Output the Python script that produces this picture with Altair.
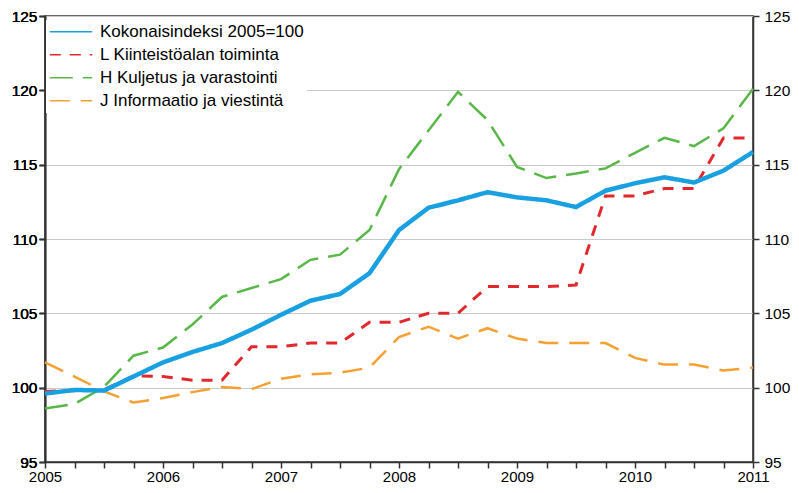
import altair as alt
import pandas as pd

# Quarterly observations, 2005 .. 2011
quarters = [2005.0, 2005.25, 2005.5, 2005.75, 2006.0, 2006.25, 2006.5, 2006.75,
            2007.0, 2007.25, 2007.5, 2007.75, 2008.0, 2008.25, 2008.5, 2008.75,
            2009.0, 2009.25, 2009.5, 2009.75, 2010.0, 2010.25, 2010.5, 2010.75, 2011.0]

kokonais = [99.6, 99.85, 99.8, 100.75, 101.7, 102.4, 103.0, 103.9, 104.9, 105.85,
            106.3, 107.7, 110.6, 112.1, 112.6, 113.15, 112.8, 112.6, 112.15, 113.25,
            113.75, 114.15, 113.8, 114.6, 115.85]
kiinteisto = [99.75, 99.8, 99.85, 100.8, 100.75, 100.5, 100.5, 102.75, 102.75, 103.0,
              103.0, 104.4, 104.4, 105.0, 105.0, 106.8, 106.8, 106.8, 106.9, 112.9,
              112.9, 113.4, 113.4, 116.8, 116.8]
kuljetus = [98.6, 98.9, 100.05, 102.15, 102.7, 104.25, 106.1, 106.7, 107.3, 108.6,
            108.95, 110.6, 114.7, 117.3, 119.9, 118.0, 114.85, 114.1, 114.4, 114.75,
            115.8, 116.8, 116.25, 117.45, 120.1]
informaatio = [101.7, 100.75, 99.75, 99.0, 99.3, 99.7, 100.05, 99.9, 100.6, 100.9,
               101.0, 101.35, 103.4, 104.1, 103.3, 104.0, 103.3, 103.0, 103.0, 103.0,
               102.0, 101.55, 101.55, 101.15, 101.35]

series_names = ["Kokonaisindeksi 2005=100", "L Kiinteistöalan toiminta",
                "H Kuljetus ja varastointi", "J Informaatio ja viestintä"]
series_values = [kokonais, kiinteisto, kuljetus, informaatio]
colors = ["#18A0E0", "#E2282D", "#58B847", "#F5A030"]
dashes = [[1, 0], [11, 9], [23, 10], [20, 11]]
line_widths = [4.5, 3, 2.5, 2.5]

y_ticks = [95, 100, 105, 110, 115, 120, 125]

rows = []
for name, vals in zip(series_names, series_values):
    for t, v in zip(quarters, vals):
        rows.append({"t": t, "v": v, "series": name})
df = pd.DataFrame(rows)

FONT = "Liberation Sans"

x_enc = alt.X("t:Q",
              scale=alt.Scale(domain=[2005, 2011], nice=False, zero=False),
              axis=alt.Axis(values=quarters, title=None, grid=False,
                            labelExpr="datum.value % 1 == 0 ? format(datum.value, 'd') : ''",
                            labelOverlap=False, labelFlush=False, tickSize=6,
                            labelPadding=1, labelFontSize=15))
y_scale = alt.Scale(domain=[95, 125], nice=False, zero=False)
y_left = alt.Y("v:Q", scale=y_scale,
               axis=alt.Axis(values=y_ticks, title=None, grid=True, orient="left",
                             tickSize=6, labelPadding=2))
y_right = alt.Y("v:Q", scale=y_scale,
                axis=alt.Axis(values=y_ticks, title=None, grid=False, orient="right",
                              tickSize=6, labelPadding=5))
color_enc = alt.Color("series:N",
                      scale=alt.Scale(domain=series_names, range=colors),
                      legend=alt.Legend(title=None))
dash_enc = alt.StrokeDash("series:N",
                          scale=alt.Scale(domain=series_names, range=dashes),
                          legend=alt.Legend(title=None))

# empty layer: carries the thin legend symbols
legend_layer = alt.Chart(df).transform_filter("false").mark_line(strokeWidth=1.5).encode(
    x=x_enc, y=y_left, color=color_enc, strokeDash=dash_enc,
)


def series_layer(idx_list, y_enc):
    names = [series_names[i] for i in idx_list]
    return alt.Chart(df).transform_filter(
        alt.FieldOneOfPredicate(field="series", oneOf=names)
    ).mark_line(strokeWidth=line_widths[idx_list[0]]).encode(
        x=x_enc, y=y_enc, color=color_enc, strokeDash=dash_enc,
    )


green_orange = series_layer([2, 3], y_left)
red = series_layer([1], y_left)
blue = series_layer([0], y_right)

chart = alt.layer(legend_layer, green_orange, red, blue).properties(
    width=708, height=446,
    padding={"left": 37, "top": 8, "right": 38, "bottom": 23},
    autosize=alt.AutoSizeParams(type="none"),
).configure_view(
    stroke="#333333", strokeWidth=1.5
).configure_axis(
    labelFont=FONT, labelFontSize=15.5, labelColor="#000000",
    domainColor="#333333", domainWidth=1.5, tickColor="#333333", tickWidth=1.5,
    gridColor="#c8c8c8", gridWidth=1,
).configure_legend(
    orient="none", legendX=1, legendY=4, symbolType="stroke",
    symbolSize=1800, symbolStrokeWidth=1.5, labelFont=FONT, labelFontSize=17,
    labelColor="#000000", labelLimit=400, fillColor="white", padding=3,
    rowPadding=4, labelOffset=7, clipHeight=17.5,
)

chart.save("out.html", embed_options={"renderer": "svg", "actions": False})
